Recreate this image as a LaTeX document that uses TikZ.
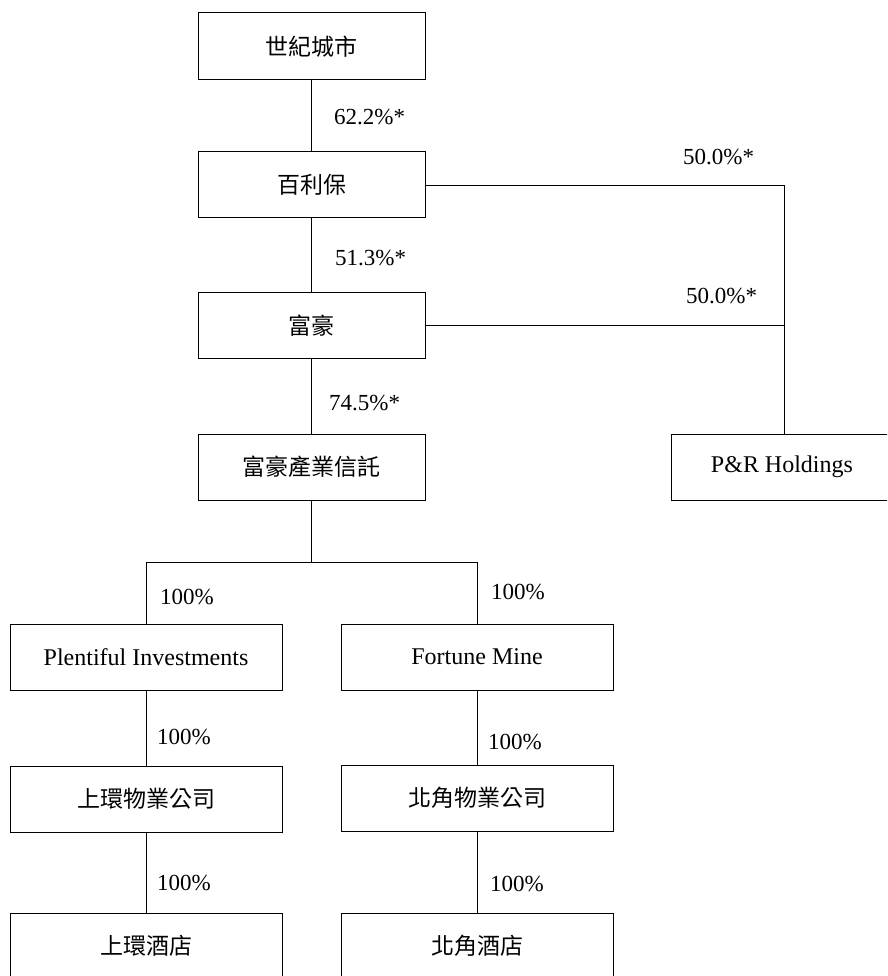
\documentclass[tikz,border=0pt]{standalone}
\usepackage{fontspec}
\setmainfont{Liberation Serif}
\newfontfamily\cjk{Noto Sans CJK TC}
\begin{document}
\begin{tikzpicture}[x=1pt,y=-1pt,
  box/.style={draw,line width=1pt,minimum height=66pt,inner sep=0pt,font=\fontsize{24}{28}\selectfont},
  boxa/.style={box,minimum width=227pt},
  boxb/.style={box,minimum width=272pt},
  pct/.style={anchor=west,inner sep=0pt,font=\fontsize{23}{27}\selectfont},
  conn/.style={line width=0.8pt}]
\useasboundingbox (0,0) rectangle (887,976);
\clip (0,0) rectangle (887,976);
\node[boxa,minimum height=67pt] (a) at (311.5,46.5) {\cjk\fontsize{23}{27}\selectfont 世紀城市};
\node[boxa] (b) at (311.5,185) {\cjk\fontsize{23}{27}\selectfont 百利保};
\node[boxa] (c) at (311.5,325.5) {\cjk\fontsize{23}{27}\selectfont 富豪};
\node[boxa] (d) at (311.5,467) {\cjk\fontsize{23}{27}\selectfont 富豪產業信託};
\node[box,minimum width=267pt,anchor=west] (pr) at (671,467) {\hspace*{-46pt}P\&R Holdings};
\coordinate (prtop) at ([xshift=113.5pt]pr.north west);
\node[boxb] (e) at (146,657) {Plentiful Investments};
\node[boxb] (f) at (477,657) {Fortune Mine};
\node[boxb] (g) at (146,799) {\cjk\fontsize{23}{27}\selectfont 上環物業公司};
\node[boxb] (h) at (477,798) {\cjk\fontsize{23}{27}\selectfont 北角物業公司};
\node[boxb] (i) at (146,946) {\cjk\fontsize{23}{27}\selectfont 上環酒店};
\node[boxb] (j) at (477,946) {\cjk\fontsize{23}{27}\selectfont 北角酒店};
\coordinate (split) at (311.5,562);
\draw[conn] (a.south) -- (b.north);
\draw[conn] (b.south) -- (c.north);
\draw[conn] (c.south) -- (d.north);
\draw[conn] (b.east) -| (prtop);
\draw[conn] (c.east) -- (prtop |- c.east);
\draw[conn] (d.south) -- (split);
\draw[conn] (split) -| (e.north);
\draw[conn] (split) -| (f.north);
\draw[conn] (e.south) -- (g.north);
\draw[conn] (f.south) -- (h.north);
\draw[conn] (g.south) -- (i.north);
\draw[conn] (h.south) -- (j.north);
\node[pct] (l1) at (334,117) {62.2\%*};
\node[pct] (l2) at (683,157) {50.0\%*};
\node[pct] (l3) at (335,258) {51.3\%*};
\node[pct] (l4) at (686,296) {50.0\%*};
\node[pct] (l5) at (329,403) {74.5\%*};
\node[pct] (l6) at (160,597) {100\%};
\node[pct] (l7) at (491,592) {100\%};
\node[pct] (l8) at (157,737) {100\%};
\node[pct] (l9) at (488,742) {100\%};
\node[pct] (l10) at (157,883) {100\%};
\node[pct] (l11) at (490,884) {100\%};
\end{tikzpicture}
\end{document}
